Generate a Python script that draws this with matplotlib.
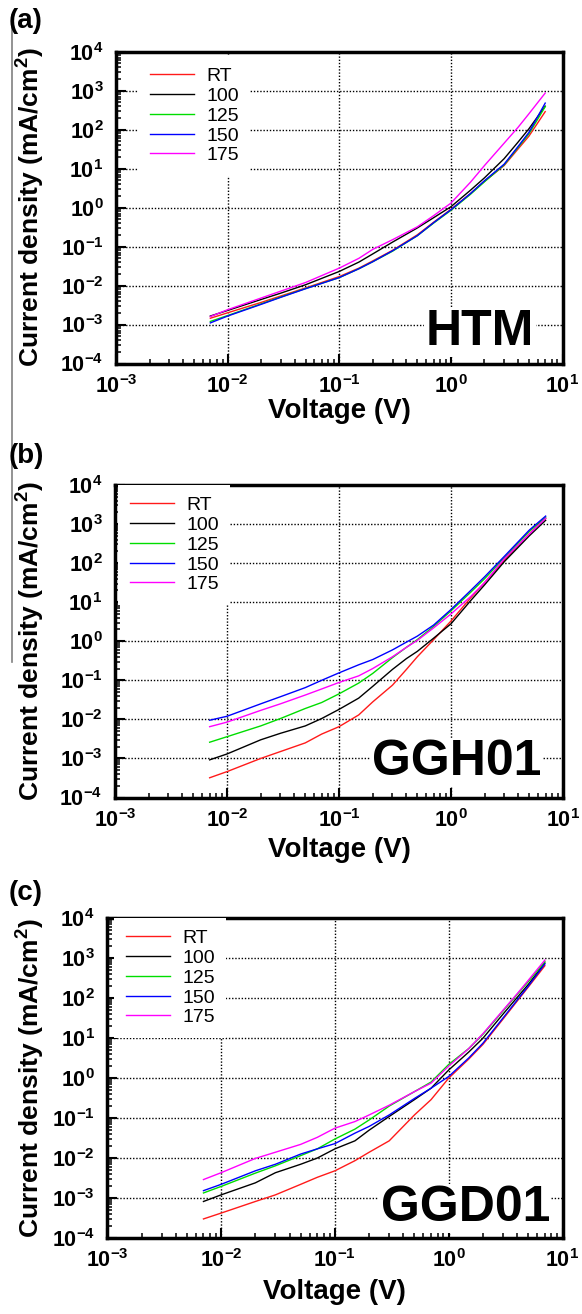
#!/usr/bin/env python3
# -*- coding: utf-8 -*-
"""
J-V curves (log-log) for HTM, GGH01 and GGD01 films annealed at different temperatures
"""
import numpy as np
import matplotlib
matplotlib.use("Agg")
import matplotlib.pyplot as plt
from matplotlib.lines import Line2D

plt.rcParams['font.family'] = ['Liberation Sans', 'DejaVu Sans']
plt.rcParams['mathtext.fontset'] = 'custom'
plt.rcParams['mathtext.rm'] = 'Liberation Sans:bold'
plt.rcParams['mathtext.bf'] = 'Liberation Sans:bold'
plt.rcParams['mathtext.default'] = 'bf'

W, H = 582, 1314

series_names = ["RT", "100", "125", "150", "175"]
series_colors = ["#ff1a1a", "#000000", "#00dd00", "#0000ff", "#ff00ff"]

xtick_vals = [1e-3, 1e-2, 1e-1, 1e0, 1e1]
xtick_labels = [r'$10^{-3}$', r'$10^{-2}$', r'$10^{-1}$', r'$10^{0}$', r'$10^{1}$']
ytick_vals = [1e-4, 1e-3, 1e-2, 1e-1, 1e0, 1e1, 1e2, 1e3, 1e4]
ytick_labels = [r'$10^{-4}$', r'$10^{-3}$', r'$10^{-2}$', r'$10^{-1}$', r'$10^{0}$',
                r'$10^{1}$', r'$10^{2}$', r'$10^{3}$', r'$10^{4}$']

# (a) HTM
volt_a = [0.007, 0.01, 0.02, 0.03, 0.05, 0.1, 0.15, 0.2, 0.3, 0.5, 0.7, 1, 1.5, 2, 3, 4, 5, 7]
htm_rt = [1.45e-3, 2.0e-3, 3.7e-3, 5.4e-3, 8.7e-3, 1.7e-2, 2.8e-2, 4.3e-2, 8e-2, 0.2, 0.42, 0.9, 2.3, 4.7, 12, 32, 68, 290]
htm_100 = [1.65e-3, 2.3e-3, 4.4e-3, 6.4e-3, 1.05e-2, 2.3e-2, 4.0e-2, 6.5e-2, 0.13, 0.3, 0.55, 1.05, 2.8, 5.8, 18, 48, 105, 400]
htm_125 = [1.2e-3, 1.7e-3, 3.4e-3, 5.1e-3, 8.4e-3, 1.6e-2, 2.7e-2, 4.1e-2, 7.6e-2, 0.19, 0.4, 0.85, 2.2, 4.6, 12.5, 35, 78, 390]
htm_150 = [1.1e-3, 1.65e-3, 3.3e-3, 5.0e-3, 8.3e-3, 1.6e-2, 2.7e-2, 4.1e-2, 7.8e-2, 0.19, 0.41, 0.88, 2.3, 4.9, 13, 37, 85, 480]
htm_175 = [1.6e-3, 2.4e-3, 4.8e-3, 7.2e-3, 1.2e-2, 2.8e-2, 5.0e-2, 8.5e-2, 0.15, 0.32, 0.62, 1.3, 4.5, 12, 45, 115, 255, 870]

# (b) GGH01
volt_b = [0.007, 0.01, 0.02, 0.03, 0.05, 0.07, 0.1, 0.15, 0.2, 0.3, 0.4, 0.5, 0.7, 1, 1.5, 2, 3, 5, 7]
ggh_rt = [3.2e-4, 4.6e-4, 1.0e-3, 1.5e-3, 2.5e-3, 4.2e-3, 6.5e-3, 1.3e-2, 2.8e-2, 7.5e-2, 0.19, 0.4, 1.1, 3.3, 13, 32, 120, 560, 1400]
ggh_100 = [9.2e-4, 1.3e-3, 3.0e-3, 4.4e-3, 6.8e-3, 1.05e-2, 1.8e-2, 3.5e-2, 7e-2, 0.19, 0.36, 0.55, 1.2, 2.8, 11, 28, 110, 500, 1250]
ggh_125 = [2.6e-3, 3.6e-3, 6.8e-3, 1.05e-2, 1.9e-2, 2.7e-2, 4.5e-2, 8.5e-2, 0.15, 0.38, 0.7, 1.1, 2.4, 6, 18, 40, 140, 650, 1500]
ggh_150 = [9.5e-3, 1.2e-2, 2.5e-2, 3.8e-2, 6.5e-2, 0.1, 0.155, 0.25, 0.34, 0.6, 0.95, 1.35, 2.6, 6.5, 20, 45, 150, 700, 1600]
ggh_175 = [6.5e-3, 8.5e-3, 1.7e-2, 2.5e-2, 4.2e-2, 6e-2, 8.8e-2, 0.13, 0.2, 0.4, 0.7, 1.05, 2.2, 5, 14, 32, 130, 550, 1400]

# (c) GGD01
volt_c = [0.007, 0.01, 0.02, 0.03, 0.05, 0.07, 0.1, 0.15, 0.2, 0.3, 0.5, 0.7, 1, 1.5, 2, 3, 4, 5, 7]
ggd_rt = [3.0e-4, 4.2e-4, 8.2e-4, 1.2e-3, 2.2e-3, 3.3e-3, 4.8e-3, 8.6e-3, 1.4e-2, 2.7e-2, 0.12, 0.29, 1.0, 3.0, 7, 30, 85, 190, 650]
ggd_100 = [8.2e-4, 1.2e-3, 2.4e-3, 4.3e-3, 7e-3, 1e-2, 1.7e-2, 2.7e-2, 5e-2, 0.11, 0.29, 0.56, 1.6, 4.5, 10, 40, 105, 220, 760]
ggd_125 = [1.34e-3, 1.95e-3, 4.2e-3, 6.4e-3, 1.15e-2, 1.7e-2, 3e-2, 5.3e-2, 9e-2, 0.2, 0.46, 0.8, 2.2, 5.5, 12.5, 48, 125, 260, 820]
ggd_150 = [1.53e-3, 2.2e-3, 4.8e-3, 7e-3, 1.26e-2, 1.7e-2, 2.3e-2, 4.2e-2, 6.2e-2, 0.12, 0.31, 0.56, 1.1, 3.2, 7.5, 32, 90, 200, 720]
ggd_175 = [2.9e-3, 4.3e-3, 9.8e-3, 1.4e-2, 2.2e-2, 3.3e-2, 5.6e-2, 8.2e-2, 0.12, 0.21, 0.46, 0.75, 2.0, 5.5, 13, 50, 130, 280, 900]

panels = [
    # letter, sample name, voltages, curves, axes box in px (l, t, r, b), legend corner px,
    # name pos (axes frac), letter top px, x-label top px
    ("(a)", "HTM", volt_a, [htm_rt, htm_100, htm_125, htm_150, htm_175],
     (116, 51.7, 562.5, 363.5), (138, 56), (0.937, 0.059), 8, 398),
    ("(b)", "GGH01", volt_b, [ggh_rt, ggh_100, ggh_125, ggh_150, ggh_175],
     (115, 485, 563, 797.5), (118, 485), (0.952, 0.072), 443, 837),
    ("(c)", "GGD01", volt_c, [ggd_rt, ggd_100, ggd_125, ggd_150, ggd_175],
     (107.3, 918.3, 562.5, 1238), (114, 918), (0.9725, 0.052), 880, 1279),
]

fig = plt.figure(figsize=(W / 100, H / 100), dpi=100)

for letter, name, volts, curves, box, leg_px, name_pos, letter_y, xlab_y in panels:
    l, t, r, b = box
    ax = fig.add_axes([l / W, 1 - b / H, (r - l) / W, (b - t) / H])

    for vals, lab, col in zip(curves, series_names, series_colors):
        ax.plot(volts, vals, color=col, lw=1.0, label=lab)

    ax.set_xscale('log')
    ax.set_yscale('log')
    ax.set_xlim(1e-3, 1e1)
    ax.set_ylim(1e-4, 1e4)
    ax.set_xticks(xtick_vals)
    ax.set_xticklabels(xtick_labels)
    ax.set_yticks(ytick_vals)
    ax.set_yticklabels(ytick_labels)
    ax.xaxis.set_minor_locator(matplotlib.ticker.LogLocator(base=10, subs=np.arange(2, 10), numticks=20))
    ax.yaxis.set_minor_locator(matplotlib.ticker.LogLocator(base=10, subs=np.arange(2, 10), numticks=20))
    ax.xaxis.set_minor_formatter(matplotlib.ticker.NullFormatter())
    ax.yaxis.set_minor_formatter(matplotlib.ticker.NullFormatter())

    ax.tick_params(which='major', direction='in', length=7, width=1.5, labelsize=15.5, top=False, right=False)
    ax.tick_params(which='minor', direction='in', length=3.5, width=1.1, top=False, right=False)
    ax.tick_params(axis='x', which='major', pad=8)
    ax.tick_params(axis='y', which='major', pad=9)
    for sp in ax.spines.values():
        sp.set_linewidth(2.5)

    ax.grid(True, which='major', color='black', lw=1.0, linestyle=(0, (1, 1.3)))

    ax.set_xlabel('Voltage (V)', fontsize=20, fontweight='bold')
    ax.set_ylabel('Current density (mA/cm$^2$)', fontsize=19, fontweight='bold')
    ax.xaxis.set_label_coords(0.5, (b - xlab_y) / (b - t))
    ax.yaxis.set_label_coords((47 - l) / (r - l), 0.5)

    leg = ax.legend(loc='upper left', bbox_to_anchor=(leg_px[0] / W, 1 - leg_px[1] / H),
                    bbox_transform=fig.transFigure, fontsize=14, frameon=True,
                    handlelength=2.3, handletextpad=0.6, labelspacing=0.11,
                    borderpad=0.6, borderaxespad=0, fancybox=False)
    leg.get_frame().set_facecolor('white')
    leg.get_frame().set_edgecolor('none')
    leg.get_frame().set_alpha(1)

    ax.text(name_pos[0], name_pos[1], name, transform=ax.transAxes, ha='right', va='baseline',
            fontsize=36, fontweight='bold', zorder=4,
            bbox=dict(facecolor='white', edgecolor='none', pad=1))

    fig.text(9 / W, 1 - letter_y / H, letter, ha='left', va='top', fontsize=20, fontweight='bold')

# thin grey rule along the left edge (part of the original page)
fig.add_artist(Line2D([12 / W, 12 / W], [1 - 15 / H, 1 - 662 / H], color='#808080', lw=1.2,
                      transform=fig.transFigure))

fig.savefig('out.png', dpi=100)
